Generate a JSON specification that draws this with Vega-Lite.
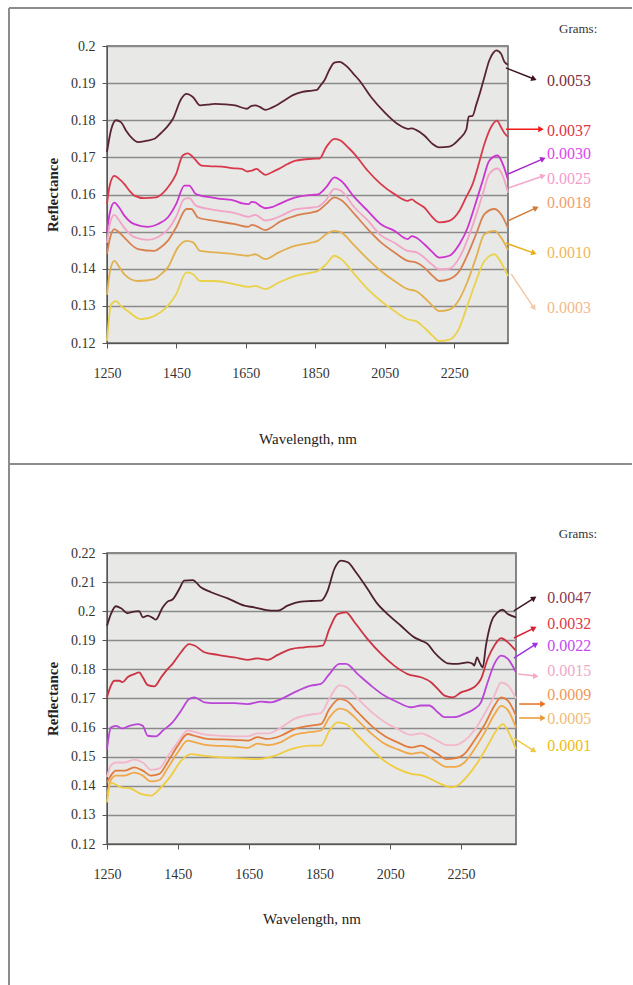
{
  "$schema": "https://vega.github.io/schema/vega-lite/v6.json",
  "padding": {"left": 7, "top": 6, "right": 0, "bottom": 0},
  "autosize": {"type": "pad"},
  "background": "#ffffff",
  "bounds": "flush",
  "spacing": 210,
  "config": {
    "font": "Liberation Serif",
    "view": {"fill": "#e8e8e6", "stroke": "#606060", "strokeWidth": 1.5},
    "axis": {
      "labelFont": "Liberation Serif",
      "titleFont": "Liberation Serif",
      "labelColor": "#333333",
      "titleColor": "#222222",
      "domainColor": "#555555",
      "tickColor": "#555555",
      "gridColor": "#8a8a8a",
      "gridWidth": 1.5,
      "labelFontSize": 14,
      "titleFontSize": 15,
      "titleFontWeight": "normal",
      "labelOverlap": false
    }
  },
  "datasets": {
    "upper": [
      {"g":"0.0053","nm":1250,"r":0.1715},{"g":"0.0053","nm":1262,"r":0.1775},{"g":"0.0053","nm":1276,"r":0.1800},{"g":"0.0053","nm":1290,"r":0.1795},{"g":"0.0053","nm":1305,"r":0.1772},{"g":"0.0053","nm":1322,"r":0.1752},{"g":"0.0053","nm":1339,"r":0.1741},{"g":"0.0053","nm":1365,"r":0.1745},{"g":"0.0053","nm":1387,"r":0.1750},{"g":"0.0053","nm":1405,"r":0.1765},{"g":"0.0053","nm":1421,"r":0.1780},{"g":"0.0053","nm":1440,"r":0.1804},{"g":"0.0053","nm":1464,"r":0.1858},{"g":"0.0053","nm":1479,"r":0.1871},{"g":"0.0053","nm":1498,"r":0.1862},{"g":"0.0053","nm":1518,"r":0.1840},{"g":"0.0053","nm":1540,"r":0.1842},{"g":"0.0053","nm":1561,"r":0.1844},{"g":"0.0053","nm":1590,"r":0.1843},{"g":"0.0053","nm":1619,"r":0.1840},{"g":"0.0053","nm":1653,"r":0.1831},{"g":"0.0053","nm":1665,"r":0.1838},{"g":"0.0053","nm":1677,"r":0.1840},{"g":"0.0053","nm":1690,"r":0.1836},{"g":"0.0053","nm":1706,"r":0.1828},{"g":"0.0053","nm":1725,"r":0.1834},{"g":"0.0053","nm":1745,"r":0.1844},{"g":"0.0053","nm":1765,"r":0.1856},{"g":"0.0053","nm":1784,"r":0.1867},{"g":"0.0053","nm":1810,"r":0.1876},{"g":"0.0053","nm":1841,"r":0.1880},{"g":"0.0053","nm":1855,"r":0.1882},{"g":"0.0053","nm":1866,"r":0.1895},{"g":"0.0053","nm":1876,"r":0.1907},{"g":"0.0053","nm":1890,"r":0.1935},{"g":"0.0053","nm":1905,"r":0.1955},{"g":"0.0053","nm":1919,"r":0.1957},{"g":"0.0053","nm":1943,"r":0.1943},{"g":"0.0053","nm":1960,"r":0.1925},{"g":"0.0053","nm":1977,"r":0.1907},{"g":"0.0053","nm":2011,"r":0.1862},{"g":"0.0053","nm":2049,"r":0.1822},{"g":"0.0053","nm":2087,"r":0.1790},{"g":"0.0053","nm":2116,"r":0.1777},{"g":"0.0053","nm":2128,"r":0.1778},{"g":"0.0053","nm":2140,"r":0.1774},{"g":"0.0053","nm":2164,"r":0.1759},{"g":"0.0053","nm":2188,"r":0.1736},{"g":"0.0053","nm":2207,"r":0.1727},{"g":"0.0053","nm":2236,"r":0.1729},{"g":"0.0053","nm":2265,"r":0.1750},{"g":"0.0053","nm":2285,"r":0.1775},{"g":"0.0053","nm":2292,"r":0.1810},{"g":"0.0053","nm":2303,"r":0.1812},{"g":"0.0053","nm":2313,"r":0.1840},{"g":"0.0053","nm":2323,"r":0.1870},{"g":"0.0053","nm":2337,"r":0.1916},{"g":"0.0053","nm":2351,"r":0.1961},{"g":"0.0053","nm":2363,"r":0.1982},{"g":"0.0053","nm":2371,"r":0.1988},{"g":"0.0053","nm":2385,"r":0.1979},{"g":"0.0053","nm":2395,"r":0.1957},{"g":"0.0053","nm":2405,"r":0.1950},

      {"g":"0.0037","nm":1250,"r":0.1575},{"g":"0.0037","nm":1258,"r":0.1625},{"g":"0.0037","nm":1271,"r":0.1650},{"g":"0.0037","nm":1285,"r":0.1642},{"g":"0.0037","nm":1300,"r":0.1628},{"g":"0.0037","nm":1315,"r":0.1610},{"g":"0.0037","nm":1329,"r":0.1597},{"g":"0.0037","nm":1357,"r":0.1590},{"g":"0.0037","nm":1391,"r":0.1592},{"g":"0.0037","nm":1410,"r":0.1603},{"g":"0.0037","nm":1425,"r":0.1619},{"g":"0.0037","nm":1449,"r":0.1655},{"g":"0.0037","nm":1468,"r":0.1705},{"g":"0.0037","nm":1483,"r":0.1711},{"g":"0.0037","nm":1502,"r":0.1696},{"g":"0.0037","nm":1522,"r":0.1678},{"g":"0.0037","nm":1550,"r":0.1676},{"g":"0.0037","nm":1580,"r":0.1675},{"g":"0.0037","nm":1610,"r":0.1671},{"g":"0.0037","nm":1638,"r":0.1669},{"g":"0.0037","nm":1655,"r":0.1662},{"g":"0.0037","nm":1667,"r":0.1664},{"g":"0.0037","nm":1681,"r":0.1669},{"g":"0.0037","nm":1694,"r":0.1660},{"g":"0.0037","nm":1706,"r":0.1653},{"g":"0.0037","nm":1725,"r":0.1660},{"g":"0.0037","nm":1745,"r":0.1669},{"g":"0.0037","nm":1770,"r":0.1682},{"g":"0.0037","nm":1793,"r":0.1691},{"g":"0.0037","nm":1841,"r":0.1696},{"g":"0.0037","nm":1862,"r":0.1697},{"g":"0.0037","nm":1881,"r":0.1727},{"g":"0.0037","nm":1905,"r":0.1750},{"g":"0.0037","nm":1924,"r":0.1745},{"g":"0.0037","nm":1943,"r":0.1728},{"g":"0.0037","nm":1963,"r":0.1709},{"g":"0.0037","nm":2001,"r":0.1664},{"g":"0.0037","nm":2039,"r":0.1628},{"g":"0.0037","nm":2078,"r":0.1601},{"g":"0.0037","nm":2116,"r":0.1583},{"g":"0.0037","nm":2128,"r":0.1587},{"g":"0.0037","nm":2140,"r":0.1579},{"g":"0.0037","nm":2164,"r":0.1565},{"g":"0.0037","nm":2188,"r":0.1538},{"g":"0.0037","nm":2207,"r":0.1525},{"g":"0.0037","nm":2236,"r":0.1529},{"g":"0.0037","nm":2265,"r":0.1556},{"g":"0.0037","nm":2284,"r":0.1592},{"g":"0.0037","nm":2303,"r":0.1628},{"g":"0.0037","nm":2318,"r":0.1673},{"g":"0.0037","nm":2337,"r":0.1736},{"g":"0.0037","nm":2356,"r":0.1781},{"g":"0.0037","nm":2373,"r":0.1799},{"g":"0.0037","nm":2385,"r":0.1781},{"g":"0.0037","nm":2395,"r":0.1765},{"g":"0.0037","nm":2405,"r":0.1755},

      {"g":"0.0030","nm":1250,"r":0.1500},{"g":"0.0030","nm":1258,"r":0.1550},{"g":"0.0030","nm":1271,"r":0.1578},{"g":"0.0030","nm":1285,"r":0.1565},{"g":"0.0030","nm":1300,"r":0.1543},{"g":"0.0030","nm":1329,"r":0.1520},{"g":"0.0030","nm":1367,"r":0.1513},{"g":"0.0030","nm":1396,"r":0.1520},{"g":"0.0030","nm":1425,"r":0.1538},{"g":"0.0030","nm":1449,"r":0.1574},{"g":"0.0030","nm":1473,"r":0.1624},{"g":"0.0030","nm":1487,"r":0.1624},{"g":"0.0030","nm":1506,"r":0.1601},{"g":"0.0030","nm":1550,"r":0.1592},{"g":"0.0030","nm":1580,"r":0.1588},{"g":"0.0030","nm":1619,"r":0.1583},{"g":"0.0030","nm":1640,"r":0.1576},{"g":"0.0030","nm":1657,"r":0.1574},{"g":"0.0030","nm":1667,"r":0.1580},{"g":"0.0030","nm":1677,"r":0.1579},{"g":"0.0030","nm":1690,"r":0.1570},{"g":"0.0030","nm":1706,"r":0.1563},{"g":"0.0030","nm":1725,"r":0.1566},{"g":"0.0030","nm":1745,"r":0.1574},{"g":"0.0030","nm":1793,"r":0.1592},{"g":"0.0030","nm":1841,"r":0.1599},{"g":"0.0030","nm":1857,"r":0.1600},{"g":"0.0030","nm":1881,"r":0.1619},{"g":"0.0030","nm":1905,"r":0.1646},{"g":"0.0030","nm":1924,"r":0.1637},{"g":"0.0030","nm":1963,"r":0.1592},{"g":"0.0030","nm":2001,"r":0.1556},{"g":"0.0030","nm":2039,"r":0.1520},{"g":"0.0030","nm":2078,"r":0.1502},{"g":"0.0030","nm":2116,"r":0.1480},{"g":"0.0030","nm":2128,"r":0.1488},{"g":"0.0030","nm":2140,"r":0.1484},{"g":"0.0030","nm":2164,"r":0.1466},{"g":"0.0030","nm":2188,"r":0.1444},{"g":"0.0030","nm":2207,"r":0.1430},{"g":"0.0030","nm":2236,"r":0.1435},{"g":"0.0030","nm":2265,"r":0.1466},{"g":"0.0030","nm":2289,"r":0.1511},{"g":"0.0030","nm":2308,"r":0.1565},{"g":"0.0030","nm":2332,"r":0.1637},{"g":"0.0030","nm":2351,"r":0.1691},{"g":"0.0030","nm":2375,"r":0.1705},{"g":"0.0030","nm":2390,"r":0.1682},{"g":"0.0030","nm":2405,"r":0.1640},

      {"g":"0.0025","nm":1250,"r":0.1470},{"g":"0.0025","nm":1258,"r":0.1520},{"g":"0.0025","nm":1271,"r":0.1545},{"g":"0.0025","nm":1285,"r":0.1530},{"g":"0.0025","nm":1300,"r":0.1510},{"g":"0.0025","nm":1329,"r":0.1485},{"g":"0.0025","nm":1367,"r":0.1478},{"g":"0.0025","nm":1396,"r":0.1485},{"g":"0.0025","nm":1425,"r":0.1505},{"g":"0.0025","nm":1449,"r":0.1540},{"g":"0.0025","nm":1473,"r":0.1588},{"g":"0.0025","nm":1487,"r":0.1590},{"g":"0.0025","nm":1506,"r":0.1570},{"g":"0.0025","nm":1550,"r":0.1560},{"g":"0.0025","nm":1619,"r":0.1550},{"g":"0.0025","nm":1657,"r":0.1540},{"g":"0.0025","nm":1677,"r":0.1545},{"g":"0.0025","nm":1706,"r":0.1530},{"g":"0.0025","nm":1745,"r":0.1540},{"g":"0.0025","nm":1793,"r":0.1560},{"g":"0.0025","nm":1841,"r":0.1565},{"g":"0.0025","nm":1857,"r":0.1567},{"g":"0.0025","nm":1881,"r":0.1585},{"g":"0.0025","nm":1905,"r":0.1615},{"g":"0.0025","nm":1924,"r":0.1610},{"g":"0.0025","nm":1963,"r":0.1565},{"g":"0.0025","nm":2001,"r":0.1530},{"g":"0.0025","nm":2039,"r":0.1490},{"g":"0.0025","nm":2078,"r":0.1470},{"g":"0.0025","nm":2116,"r":0.1448},{"g":"0.0025","nm":2140,"r":0.1445},{"g":"0.0025","nm":2164,"r":0.1430},{"g":"0.0025","nm":2188,"r":0.1410},{"g":"0.0025","nm":2207,"r":0.1398},{"g":"0.0025","nm":2236,"r":0.1400},{"g":"0.0025","nm":2265,"r":0.1430},{"g":"0.0025","nm":2289,"r":0.1480},{"g":"0.0025","nm":2308,"r":0.1530},{"g":"0.0025","nm":2332,"r":0.1600},{"g":"0.0025","nm":2351,"r":0.1655},{"g":"0.0025","nm":2375,"r":0.1670},{"g":"0.0025","nm":2390,"r":0.1650},{"g":"0.0025","nm":2405,"r":0.1605},

      {"g":"0.0018","nm":1250,"r":0.1440},{"g":"0.0018","nm":1258,"r":0.1480},{"g":"0.0018","nm":1271,"r":0.1507},{"g":"0.0018","nm":1285,"r":0.1498},{"g":"0.0018","nm":1300,"r":0.1484},{"g":"0.0018","nm":1339,"r":0.1453},{"g":"0.0018","nm":1387,"r":0.1448},{"g":"0.0018","nm":1405,"r":0.1458},{"g":"0.0018","nm":1425,"r":0.1475},{"g":"0.0018","nm":1449,"r":0.1511},{"g":"0.0018","nm":1479,"r":0.1561},{"g":"0.0018","nm":1493,"r":0.1561},{"g":"0.0018","nm":1512,"r":0.1538},{"g":"0.0018","nm":1561,"r":0.1529},{"g":"0.0018","nm":1619,"r":0.1520},{"g":"0.0018","nm":1657,"r":0.1513},{"g":"0.0018","nm":1667,"r":0.1518},{"g":"0.0018","nm":1677,"r":0.1516},{"g":"0.0018","nm":1706,"r":0.1504},{"g":"0.0018","nm":1725,"r":0.1512},{"g":"0.0018","nm":1745,"r":0.1525},{"g":"0.0018","nm":1793,"r":0.1543},{"g":"0.0018","nm":1841,"r":0.1552},{"g":"0.0018","nm":1857,"r":0.1556},{"g":"0.0018","nm":1881,"r":0.1574},{"g":"0.0018","nm":1905,"r":0.1592},{"g":"0.0018","nm":1924,"r":0.1585},{"g":"0.0018","nm":1963,"r":0.1547},{"g":"0.0018","nm":2001,"r":0.1507},{"g":"0.0018","nm":2039,"r":0.1471},{"g":"0.0018","nm":2078,"r":0.1444},{"g":"0.0018","nm":2116,"r":0.1421},{"g":"0.0018","nm":2140,"r":0.1417},{"g":"0.0018","nm":2164,"r":0.1403},{"g":"0.0018","nm":2188,"r":0.1381},{"g":"0.0018","nm":2207,"r":0.1367},{"g":"0.0018","nm":2236,"r":0.1372},{"g":"0.0018","nm":2265,"r":0.1394},{"g":"0.0018","nm":2289,"r":0.1439},{"g":"0.0018","nm":2313,"r":0.1493},{"g":"0.0018","nm":2337,"r":0.1547},{"g":"0.0018","nm":2366,"r":0.1561},{"g":"0.0018","nm":2385,"r":0.1547},{"g":"0.0018","nm":2405,"r":0.1510},

      {"g":"0.0010","nm":1250,"r":0.1330},{"g":"0.0010","nm":1258,"r":0.1390},{"g":"0.0010","nm":1271,"r":0.1421},{"g":"0.0010","nm":1285,"r":0.1405},{"g":"0.0010","nm":1300,"r":0.1385},{"g":"0.0010","nm":1339,"r":0.1367},{"g":"0.0010","nm":1387,"r":0.1372},{"g":"0.0010","nm":1405,"r":0.1385},{"g":"0.0010","nm":1425,"r":0.1403},{"g":"0.0010","nm":1454,"r":0.1457},{"g":"0.0010","nm":1479,"r":0.1475},{"g":"0.0010","nm":1498,"r":0.1471},{"g":"0.0010","nm":1518,"r":0.1448},{"g":"0.0010","nm":1561,"r":0.1444},{"g":"0.0010","nm":1619,"r":0.1439},{"g":"0.0010","nm":1657,"r":0.1435},{"g":"0.0010","nm":1677,"r":0.1439},{"g":"0.0010","nm":1706,"r":0.1426},{"g":"0.0010","nm":1745,"r":0.1444},{"g":"0.0010","nm":1793,"r":0.1462},{"g":"0.0010","nm":1841,"r":0.1471},{"g":"0.0010","nm":1857,"r":0.1475},{"g":"0.0010","nm":1881,"r":0.1493},{"g":"0.0010","nm":1905,"r":0.1502},{"g":"0.0010","nm":1924,"r":0.1498},{"g":"0.0010","nm":1963,"r":0.1462},{"g":"0.0010","nm":2001,"r":0.1426},{"g":"0.0010","nm":2039,"r":0.1394},{"g":"0.0010","nm":2078,"r":0.1367},{"g":"0.0010","nm":2116,"r":0.1345},{"g":"0.0010","nm":2140,"r":0.1340},{"g":"0.0010","nm":2164,"r":0.1322},{"g":"0.0010","nm":2188,"r":0.1300},{"g":"0.0010","nm":2207,"r":0.1286},{"g":"0.0010","nm":2236,"r":0.1290},{"g":"0.0010","nm":2265,"r":0.1318},{"g":"0.0010","nm":2289,"r":0.1367},{"g":"0.0010","nm":2313,"r":0.1430},{"g":"0.0010","nm":2337,"r":0.1493},{"g":"0.0010","nm":2366,"r":0.1502},{"g":"0.0010","nm":2385,"r":0.1484},{"g":"0.0010","nm":2405,"r":0.1450},

      {"g":"0.0003","nm":1250,"r":0.1205},{"g":"0.0003","nm":1262,"r":0.1304},{"g":"0.0003","nm":1276,"r":0.1313},{"g":"0.0003","nm":1290,"r":0.1300},{"g":"0.0003","nm":1310,"r":0.1286},{"g":"0.0003","nm":1348,"r":0.1264},{"g":"0.0003","nm":1387,"r":0.1273},{"g":"0.0003","nm":1425,"r":0.1300},{"g":"0.0003","nm":1449,"r":0.1331},{"g":"0.0003","nm":1479,"r":0.1390},{"g":"0.0003","nm":1498,"r":0.1385},{"g":"0.0003","nm":1518,"r":0.1367},{"g":"0.0003","nm":1561,"r":0.1367},{"g":"0.0003","nm":1619,"r":0.1358},{"g":"0.0003","nm":1657,"r":0.1351},{"g":"0.0003","nm":1677,"r":0.1354},{"g":"0.0003","nm":1706,"r":0.1345},{"g":"0.0003","nm":1745,"r":0.1363},{"g":"0.0003","nm":1793,"r":0.1381},{"g":"0.0003","nm":1841,"r":0.1390},{"g":"0.0003","nm":1857,"r":0.1394},{"g":"0.0003","nm":1881,"r":0.1412},{"g":"0.0003","nm":1905,"r":0.1435},{"g":"0.0003","nm":1924,"r":0.1426},{"g":"0.0003","nm":1963,"r":0.1385},{"g":"0.0003","nm":2001,"r":0.1345},{"g":"0.0003","nm":2039,"r":0.1313},{"g":"0.0003","nm":2078,"r":0.1286},{"g":"0.0003","nm":2116,"r":0.1264},{"g":"0.0003","nm":2140,"r":0.1259},{"g":"0.0003","nm":2164,"r":0.1241},{"g":"0.0003","nm":2188,"r":0.1219},{"g":"0.0003","nm":2207,"r":0.1205},{"g":"0.0003","nm":2236,"r":0.1209},{"g":"0.0003","nm":2265,"r":0.1241},{"g":"0.0003","nm":2289,"r":0.1304},{"g":"0.0003","nm":2313,"r":0.1367},{"g":"0.0003","nm":2337,"r":0.1421},{"g":"0.0003","nm":2366,"r":0.1439},{"g":"0.0003","nm":2385,"r":0.1417},{"g":"0.0003","nm":2405,"r":0.1380}
    ],
    "lower": [
      {"g":"0.0047","nm":1250,"r":0.1950},{"g":"0.0047","nm":1261,"r":0.1990},{"g":"0.0047","nm":1275,"r":0.2017},{"g":"0.0047","nm":1290,"r":0.2010},{"g":"0.0047","nm":1308,"r":0.1993},{"g":"0.0047","nm":1322,"r":0.1998},{"g":"0.0047","nm":1341,"r":0.2000},{"g":"0.0047","nm":1351,"r":0.1979},{"g":"0.0047","nm":1365,"r":0.1985},{"g":"0.0047","nm":1379,"r":0.1977},{"g":"0.0047","nm":1388,"r":0.1971},{"g":"0.0047","nm":1407,"r":0.2013},{"g":"0.0047","nm":1421,"r":0.2033},{"g":"0.0047","nm":1435,"r":0.2040},{"g":"0.0047","nm":1454,"r":0.2076},{"g":"0.0047","nm":1468,"r":0.2105},{"g":"0.0047","nm":1492,"r":0.2107},{"g":"0.0047","nm":1515,"r":0.2082},{"g":"0.0047","nm":1544,"r":0.2065},{"g":"0.0047","nm":1591,"r":0.2044},{"g":"0.0047","nm":1638,"r":0.2019},{"g":"0.0047","nm":1666,"r":0.2013},{"g":"0.0047","nm":1694,"r":0.2005},{"g":"0.0047","nm":1713,"r":0.2002},{"g":"0.0047","nm":1732,"r":0.2002},{"g":"0.0047","nm":1760,"r":0.2019},{"g":"0.0047","nm":1798,"r":0.2033},{"g":"0.0047","nm":1826,"r":0.2035},{"g":"0.0047","nm":1854,"r":0.2036},{"g":"0.0047","nm":1873,"r":0.2070},{"g":"0.0047","nm":1892,"r":0.2145},{"g":"0.0047","nm":1911,"r":0.2174},{"g":"0.0047","nm":1930,"r":0.2168},{"g":"0.0047","nm":1953,"r":0.2134},{"g":"0.0047","nm":1986,"r":0.2076},{"g":"0.0047","nm":2014,"r":0.2025},{"g":"0.0047","nm":2047,"r":0.1985},{"g":"0.0047","nm":2080,"r":0.1950},{"g":"0.0047","nm":2118,"r":0.1910},{"g":"0.0047","nm":2137,"r":0.1899},{"g":"0.0047","nm":2156,"r":0.1887},{"g":"0.0047","nm":2174,"r":0.1859},{"g":"0.0047","nm":2193,"r":0.1836},{"g":"0.0047","nm":2212,"r":0.1821},{"g":"0.0047","nm":2240,"r":0.1819},{"g":"0.0047","nm":2269,"r":0.1824},{"g":"0.0047","nm":2283,"r":0.1819},{"g":"0.0047","nm":2287,"r":0.1813},{"g":"0.0047","nm":2295,"r":0.1841},{"g":"0.0047","nm":2302,"r":0.1824},{"g":"0.0047","nm":2311,"r":0.1807},{"g":"0.0047","nm":2320,"r":0.1881},{"g":"0.0047","nm":2335,"r":0.1962},{"g":"0.0047","nm":2353,"r":0.1996},{"g":"0.0047","nm":2367,"r":0.2005},{"g":"0.0047","nm":2382,"r":0.1990},{"g":"0.0047","nm":2405,"r":0.1979},

      {"g":"0.0032","nm":1250,"r":0.1704},{"g":"0.0032","nm":1261,"r":0.1744},{"g":"0.0032","nm":1271,"r":0.1761},{"g":"0.0032","nm":1285,"r":0.1761},{"g":"0.0032","nm":1294,"r":0.1756},{"g":"0.0032","nm":1308,"r":0.1773},{"g":"0.0032","nm":1327,"r":0.1784},{"g":"0.0032","nm":1341,"r":0.1790},{"g":"0.0032","nm":1351,"r":0.1773},{"g":"0.0032","nm":1365,"r":0.1746},{"g":"0.0032","nm":1384,"r":0.1742},{"g":"0.0032","nm":1403,"r":0.1773},{"g":"0.0032","nm":1421,"r":0.1801},{"g":"0.0032","nm":1435,"r":0.1819},{"g":"0.0032","nm":1459,"r":0.1859},{"g":"0.0032","nm":1482,"r":0.1887},{"g":"0.0032","nm":1497,"r":0.1882},{"g":"0.0032","nm":1525,"r":0.1859},{"g":"0.0032","nm":1563,"r":0.1850},{"g":"0.0032","nm":1610,"r":0.1841},{"g":"0.0032","nm":1647,"r":0.1833},{"g":"0.0032","nm":1675,"r":0.1838},{"g":"0.0032","nm":1704,"r":0.1833},{"g":"0.0032","nm":1732,"r":0.1850},{"g":"0.0032","nm":1770,"r":0.1870},{"g":"0.0032","nm":1807,"r":0.1876},{"g":"0.0032","nm":1859,"r":0.1882},{"g":"0.0032","nm":1878,"r":0.1939},{"g":"0.0032","nm":1901,"r":0.1990},{"g":"0.0032","nm":1925,"r":0.1996},{"g":"0.0032","nm":1949,"r":0.1962},{"g":"0.0032","nm":1986,"r":0.1904},{"g":"0.0032","nm":2024,"r":0.1853},{"g":"0.0032","nm":2061,"r":0.1813},{"g":"0.0032","nm":2099,"r":0.1784},{"g":"0.0032","nm":2137,"r":0.1773},{"g":"0.0032","nm":2165,"r":0.1756},{"g":"0.0032","nm":2184,"r":0.1733},{"g":"0.0032","nm":2203,"r":0.1710},{"g":"0.0032","nm":2226,"r":0.1704},{"g":"0.0032","nm":2250,"r":0.1721},{"g":"0.0032","nm":2278,"r":0.1733},{"g":"0.0032","nm":2292,"r":0.1744},{"g":"0.0032","nm":2306,"r":0.1767},{"g":"0.0032","nm":2325,"r":0.1836},{"g":"0.0032","nm":2344,"r":0.1882},{"g":"0.0032","nm":2363,"r":0.1907},{"g":"0.0032","nm":2382,"r":0.1893},{"g":"0.0032","nm":2405,"r":0.1864},

      {"g":"0.0022","nm":1250,"r":0.1526},{"g":"0.0022","nm":1261,"r":0.1600},{"g":"0.0022","nm":1275,"r":0.1606},{"g":"0.0022","nm":1294,"r":0.1597},{"g":"0.0022","nm":1313,"r":0.1606},{"g":"0.0022","nm":1337,"r":0.1612},{"g":"0.0022","nm":1351,"r":0.1606},{"g":"0.0022","nm":1365,"r":0.1572},{"g":"0.0022","nm":1388,"r":0.1570},{"g":"0.0022","nm":1407,"r":0.1589},{"g":"0.0022","nm":1435,"r":0.1618},{"g":"0.0022","nm":1459,"r":0.1658},{"g":"0.0022","nm":1482,"r":0.1698},{"g":"0.0022","nm":1497,"r":0.1704},{"g":"0.0022","nm":1525,"r":0.1687},{"g":"0.0022","nm":1563,"r":0.1684},{"g":"0.0022","nm":1610,"r":0.1684},{"g":"0.0022","nm":1647,"r":0.1681},{"g":"0.0022","nm":1685,"r":0.1689},{"g":"0.0022","nm":1713,"r":0.1687},{"g":"0.0022","nm":1741,"r":0.1698},{"g":"0.0022","nm":1779,"r":0.1721},{"g":"0.0022","nm":1826,"r":0.1744},{"g":"0.0022","nm":1854,"r":0.1750},{"g":"0.0022","nm":1878,"r":0.1784},{"g":"0.0022","nm":1906,"r":0.1819},{"g":"0.0022","nm":1925,"r":0.1819},{"g":"0.0022","nm":1958,"r":0.1784},{"g":"0.0022","nm":1996,"r":0.1744},{"g":"0.0022","nm":2033,"r":0.1710},{"g":"0.0022","nm":2071,"r":0.1687},{"g":"0.0022","nm":2109,"r":0.1670},{"g":"0.0022","nm":2137,"r":0.1676},{"g":"0.0022","nm":2160,"r":0.1676},{"g":"0.0022","nm":2184,"r":0.1653},{"g":"0.0022","nm":2203,"r":0.1636},{"g":"0.0022","nm":2231,"r":0.1636},{"g":"0.0022","nm":2259,"r":0.1647},{"g":"0.0022","nm":2287,"r":0.1664},{"g":"0.0022","nm":2306,"r":0.1687},{"g":"0.0022","nm":2325,"r":0.1756},{"g":"0.0022","nm":2344,"r":0.1819},{"g":"0.0022","nm":2363,"r":0.1847},{"g":"0.0022","nm":2382,"r":0.1836},{"g":"0.0022","nm":2405,"r":0.1790},

      {"g":"0.0015","nm":1250,"r":0.1430},{"g":"0.0015","nm":1261,"r":0.1470},{"g":"0.0015","nm":1275,"r":0.1480},{"g":"0.0015","nm":1299,"r":0.1480},{"g":"0.0015","nm":1327,"r":0.1490},{"g":"0.0015","nm":1351,"r":0.1480},{"g":"0.0015","nm":1374,"r":0.1455},{"g":"0.0015","nm":1398,"r":0.1460},{"g":"0.0015","nm":1421,"r":0.1500},{"g":"0.0015","nm":1450,"r":0.1550},{"g":"0.0015","nm":1478,"r":0.1590},{"g":"0.0015","nm":1497,"r":0.1585},{"g":"0.0015","nm":1534,"r":0.1575},{"g":"0.0015","nm":1610,"r":0.1570},{"g":"0.0015","nm":1647,"r":0.1570},{"g":"0.0015","nm":1675,"r":0.1580},{"g":"0.0015","nm":1704,"r":0.1580},{"g":"0.0015","nm":1741,"r":0.1600},{"g":"0.0015","nm":1779,"r":0.1630},{"g":"0.0015","nm":1826,"r":0.1645},{"g":"0.0015","nm":1854,"r":0.1650},{"g":"0.0015","nm":1878,"r":0.1700},{"g":"0.0015","nm":1906,"r":0.1745},{"g":"0.0015","nm":1925,"r":0.1740},{"g":"0.0015","nm":1958,"r":0.1700},{"g":"0.0015","nm":1996,"r":0.1655},{"g":"0.0015","nm":2033,"r":0.1620},{"g":"0.0015","nm":2071,"r":0.1595},{"g":"0.0015","nm":2109,"r":0.1575},{"g":"0.0015","nm":2137,"r":0.1580},{"g":"0.0015","nm":2160,"r":0.1570},{"g":"0.0015","nm":2184,"r":0.1555},{"g":"0.0015","nm":2208,"r":0.1540},{"g":"0.0015","nm":2231,"r":0.1540},{"g":"0.0015","nm":2259,"r":0.1555},{"g":"0.0015","nm":2287,"r":0.1590},{"g":"0.0015","nm":2315,"r":0.1645},{"g":"0.0015","nm":2344,"r":0.1710},{"g":"0.0015","nm":2363,"r":0.1755},{"g":"0.0015","nm":2382,"r":0.1745},{"g":"0.0015","nm":2405,"r":0.1700},

      {"g":"0.0009","nm":1250,"r":0.1412},{"g":"0.0009","nm":1261,"r":0.1435},{"g":"0.0009","nm":1275,"r":0.1452},{"g":"0.0009","nm":1299,"r":0.1452},{"g":"0.0009","nm":1327,"r":0.1463},{"g":"0.0009","nm":1351,"r":0.1452},{"g":"0.0009","nm":1374,"r":0.1435},{"g":"0.0009","nm":1398,"r":0.1441},{"g":"0.0009","nm":1421,"r":0.1481},{"g":"0.0009","nm":1450,"r":0.1538},{"g":"0.0009","nm":1478,"r":0.1578},{"g":"0.0009","nm":1497,"r":0.1572},{"g":"0.0009","nm":1534,"r":0.1561},{"g":"0.0009","nm":1610,"r":0.1558},{"g":"0.0009","nm":1647,"r":0.1555},{"g":"0.0009","nm":1675,"r":0.1567},{"g":"0.0009","nm":1704,"r":0.1561},{"g":"0.0009","nm":1741,"r":0.1572},{"g":"0.0009","nm":1779,"r":0.1595},{"g":"0.0009","nm":1826,"r":0.1607},{"g":"0.0009","nm":1854,"r":0.1612},{"g":"0.0009","nm":1878,"r":0.1664},{"g":"0.0009","nm":1906,"r":0.1698},{"g":"0.0009","nm":1925,"r":0.1693},{"g":"0.0009","nm":1958,"r":0.1653},{"g":"0.0009","nm":1996,"r":0.1607},{"g":"0.0009","nm":2033,"r":0.1572},{"g":"0.0009","nm":2071,"r":0.1549},{"g":"0.0009","nm":2109,"r":0.1532},{"g":"0.0009","nm":2137,"r":0.1538},{"g":"0.0009","nm":2160,"r":0.1526},{"g":"0.0009","nm":2184,"r":0.1509},{"g":"0.0009","nm":2208,"r":0.1492},{"g":"0.0009","nm":2231,"r":0.1494},{"g":"0.0009","nm":2259,"r":0.1509},{"g":"0.0009","nm":2287,"r":0.1555},{"g":"0.0009","nm":2315,"r":0.1607},{"g":"0.0009","nm":2344,"r":0.1675},{"g":"0.0009","nm":2363,"r":0.1704},{"g":"0.0009","nm":2382,"r":0.1693},{"g":"0.0009","nm":2405,"r":0.1641},

      {"g":"0.0005","nm":1250,"r":0.1370},{"g":"0.0005","nm":1261,"r":0.1420},{"g":"0.0005","nm":1275,"r":0.1435},{"g":"0.0005","nm":1299,"r":0.1435},{"g":"0.0005","nm":1327,"r":0.1445},{"g":"0.0005","nm":1351,"r":0.1435},{"g":"0.0005","nm":1374,"r":0.1415},{"g":"0.0005","nm":1398,"r":0.1420},{"g":"0.0005","nm":1421,"r":0.1460},{"g":"0.0005","nm":1450,"r":0.1515},{"g":"0.0005","nm":1478,"r":0.1555},{"g":"0.0005","nm":1497,"r":0.1550},{"g":"0.0005","nm":1534,"r":0.1540},{"g":"0.0005","nm":1610,"r":0.1535},{"g":"0.0005","nm":1647,"r":0.1530},{"g":"0.0005","nm":1675,"r":0.1545},{"g":"0.0005","nm":1704,"r":0.1540},{"g":"0.0005","nm":1741,"r":0.1550},{"g":"0.0005","nm":1779,"r":0.1575},{"g":"0.0005","nm":1826,"r":0.1585},{"g":"0.0005","nm":1854,"r":0.1590},{"g":"0.0005","nm":1878,"r":0.1635},{"g":"0.0005","nm":1906,"r":0.1665},{"g":"0.0005","nm":1925,"r":0.1660},{"g":"0.0005","nm":1958,"r":0.1625},{"g":"0.0005","nm":1996,"r":0.1580},{"g":"0.0005","nm":2033,"r":0.1545},{"g":"0.0005","nm":2071,"r":0.1525},{"g":"0.0005","nm":2109,"r":0.1510},{"g":"0.0005","nm":2137,"r":0.1515},{"g":"0.0005","nm":2160,"r":0.1500},{"g":"0.0005","nm":2184,"r":0.1480},{"g":"0.0005","nm":2208,"r":0.1465},{"g":"0.0005","nm":2231,"r":0.1465},{"g":"0.0005","nm":2259,"r":0.1480},{"g":"0.0005","nm":2287,"r":0.1525},{"g":"0.0005","nm":2315,"r":0.1580},{"g":"0.0005","nm":2344,"r":0.1645},{"g":"0.0005","nm":2363,"r":0.1675},{"g":"0.0005","nm":2382,"r":0.1660},{"g":"0.0005","nm":2405,"r":0.1600},

      {"g":"0.0001","nm":1250,"r":0.1343},{"g":"0.0001","nm":1261,"r":0.1410},{"g":"0.0001","nm":1290,"r":0.1395},{"g":"0.0001","nm":1318,"r":0.1390},{"g":"0.0001","nm":1346,"r":0.1372},{"g":"0.0001","nm":1374,"r":0.1366},{"g":"0.0001","nm":1403,"r":0.1395},{"g":"0.0001","nm":1431,"r":0.1435},{"g":"0.0001","nm":1459,"r":0.1486},{"g":"0.0001","nm":1487,"r":0.1509},{"g":"0.0001","nm":1525,"r":0.1503},{"g":"0.0001","nm":1572,"r":0.1498},{"g":"0.0001","nm":1628,"r":0.1494},{"g":"0.0001","nm":1675,"r":0.1492},{"g":"0.0001","nm":1723,"r":0.1503},{"g":"0.0001","nm":1770,"r":0.1526},{"g":"0.0001","nm":1826,"r":0.1538},{"g":"0.0001","nm":1854,"r":0.1538},{"g":"0.0001","nm":1878,"r":0.1589},{"g":"0.0001","nm":1901,"r":0.1618},{"g":"0.0001","nm":1925,"r":0.1612},{"g":"0.0001","nm":1958,"r":0.1572},{"g":"0.0001","nm":1996,"r":0.1526},{"g":"0.0001","nm":2033,"r":0.1486},{"g":"0.0001","nm":2071,"r":0.1458},{"g":"0.0001","nm":2109,"r":0.1441},{"g":"0.0001","nm":2142,"r":0.1435},{"g":"0.0001","nm":2165,"r":0.1423},{"g":"0.0001","nm":2193,"r":0.1406},{"g":"0.0001","nm":2221,"r":0.1395},{"g":"0.0001","nm":2240,"r":0.1401},{"g":"0.0001","nm":2269,"r":0.1435},{"g":"0.0001","nm":2297,"r":0.1481},{"g":"0.0001","nm":2325,"r":0.1538},{"g":"0.0001","nm":2349,"r":0.1589},{"g":"0.0001","nm":2368,"r":0.1612},{"g":"0.0001","nm":2382,"r":0.1589},{"g":"0.0001","nm":2405,"r":0.1526}
    ],
    "upper_callouts": [
      {"g":"0.0053","nm_from":2399,"r_from":0.1941,"nm_to":2480,"r_to":0.1911,"nm_text":2517,"r_text":0.1906,"heading":21},
      {"g":"0.0037","nm_from":2399,"r_from":0.1776,"nm_to":2500,"r_to":0.1776,"nm_text":2517,"r_text":0.1771,"heading":0},
      {"g":"0.0030","nm_from":2405,"r_from":0.1655,"nm_to":2506,"r_to":0.1696,"nm_text":2517,"r_text":0.1709,"heading":-23},
      {"g":"0.0025","nm_from":2408,"r_from":0.1618,"nm_to":2506,"r_to":0.1650,"nm_text":2517,"r_text":0.1642,"heading":-19},
      {"g":"0.0018","nm_from":2405,"r_from":0.1529,"nm_to":2486,"r_to":0.1564,"nm_text":2517,"r_text":0.1577,"heading":-25},
      {"g":"0.0010","nm_from":2399,"r_from":0.1469,"nm_to":2480,"r_to":0.1442,"nm_text":2517,"r_text":0.1442,"heading":20},
      {"g":"0.0003","nm_from":2414,"r_from":0.1386,"nm_to":2480,"r_to":0.1294,"nm_text":2517,"r_text":0.1294,"heading":56}
    ],
    "lower_callouts": [
      {"g":"0.0047","nm_from":2399,"r_from":0.2001,"nm_to":2456,"r_to":0.2045,"nm_text":2493,"r_text":0.2045,"heading":-33},
      {"g":"0.0032","nm_from":2399,"r_from":0.1908,"nm_to":2456,"r_to":0.1942,"nm_text":2493,"r_text":0.1956,"heading":-27},
      {"g":"0.0022","nm_from":2399,"r_from":0.1839,"nm_to":2461,"r_to":0.1887,"nm_text":2493,"r_text":0.1880,"heading":-32},
      {"g":"0.0015","nm_from":2411,"r_from":0.1784,"nm_to":2461,"r_to":0.1777,"nm_text":2493,"r_text":0.1795,"heading":6},
      {"g":"0.0009","nm_from":2414,"r_from":0.1681,"nm_to":2481,"r_to":0.1681,"nm_text":2493,"r_text":0.1712,"heading":0},
      {"g":"0.0005","nm_from":2414,"r_from":0.1633,"nm_to":2481,"r_to":0.1633,"nm_text":2493,"r_text":0.1630,"heading":0},
      {"g":"0.0001","nm_from":2399,"r_from":0.1564,"nm_to":2456,"r_to":0.1520,"nm_text":2493,"r_text":0.1537,"heading":33}
    ]
  },
  "vconcat": [
    {
      "width": 401,
      "height": 297,
      "resolve": {"scale": {"color": "independent"}},
      "layer": [
        {
          "data": {"name": "upper"},
          "mark": {"type": "line", "strokeWidth": 1.8, "interpolate": "monotone"},
          "encoding": {
            "x": {"field": "nm", "type": "quantitative",
                  "scale": {"domain": [1250, 2405], "nice": false, "zero": false},
                  "axis": {"title": "Wavelength, nm", "values": [1250, 1450, 1650, 1850, 2050, 2250], "tickCount": 20, "format": "d",
                           "grid": false, "tickSize": 5, "labelPadding": 18, "titlePadding": 51, "labelFlush": false}},
            "y": {"field": "r", "type": "quantitative",
                  "scale": {"domain": [0.12, 0.2], "nice": false, "zero": false},
                  "axis": {"title": "Reflectance", "titleFontWeight": "bold", "values": [0.12, 0.13, 0.14, 0.15, 0.16, 0.17, 0.18, 0.19, 0.2], "tickCount": 20,
                           "format": ".2~f", "tickSize": 5, "labelPadding": 7, "titlePadding": 10, "labelFlush": false}},
            "color": {"field": "g", "type": "nominal", "legend": null,
                      "scale": {"domain": ["0.0053", "0.0037", "0.0030", "0.0025", "0.0018", "0.0010", "0.0003"],
                                "range": ["#5a2433", "#d83a4c", "#cc35d0", "#f2a3c6", "#d9804f", "#e2b04e", "#ead24a"]}},
            "detail": {"field": "g"}
          }
        },
        {
          "data": {"values": [{}]},
          "mark": {"type": "rule", "color": "#8c8c8c", "strokeWidth": 2},
          "encoding": {"x": {"datum": 967.7}, "x2": {"datum": 2762}, "y": {"datum": 0.210236}}
        },
        {
          "data": {"values": [{}]},
          "mark": {"type": "rule", "color": "#8c8c8c", "strokeWidth": 2},
          "encoding": {"x": {"datum": 967.7}, "x2": {"datum": 2762}, "y": {"datum": 0.087407}}
        },
        {
          "data": {"values": [{}]},
          "mark": {"type": "rule", "color": "#8c8c8c", "strokeWidth": 2},
          "encoding": {"x": {"datum": 967.7}, "y": {"datum": 0.210236}, "y2": {"datum": 0.087407}}
        },
        {
          "data": {"values": [{}]},
          "mark": {"type": "text", "text": "Grams:", "fontSize": 13, "color": "#333333", "align": "center", "baseline": "middle"},
          "encoding": {"x": {"datum": 2607}, "y": {"datum": 0.2046}}
        },
        {
          "data": {"name": "upper_callouts"},
          "mark": {"type": "rule", "strokeWidth": 1.5},
          "encoding": {
            "x": {"field": "nm_from", "type": "quantitative"}, "y": {"field": "r_from", "type": "quantitative"},
            "x2": {"field": "nm_to"}, "y2": {"field": "r_to"},
            "color": {"field": "g", "type": "nominal", "legend": null,
                      "scale": {"domain": ["0.0053", "0.0037", "0.0030", "0.0025", "0.0018", "0.0010", "0.0003"],
                                "range": ["#3d1420", "#f01818", "#a828c8", "#f6a8cc", "#d07a38", "#e8b020", "#f2c8a8"]}}
          }
        },
        {
          "data": {"name": "upper_callouts"},
          "mark": {"type": "point", "shape": "triangle-right", "filled": true, "size": 40, "opacity": 1},
          "encoding": {
            "x": {"field": "nm_to", "type": "quantitative"}, "y": {"field": "r_to", "type": "quantitative"},
            "angle": {"field": "heading", "type": "quantitative", "scale": null},
            "color": {"field": "g", "type": "nominal", "legend": null,
                      "scale": {"domain": ["0.0053", "0.0037", "0.0030", "0.0025", "0.0018", "0.0010", "0.0003"],
                                "range": ["#3d1420", "#f01818", "#a828c8", "#f6a8cc", "#d07a38", "#e8b020", "#f2c8a8"]}}
          }
        },
        {
          "data": {"name": "upper_callouts"},
          "mark": {"type": "text", "fontSize": 16, "align": "left", "baseline": "middle"},
          "encoding": {
            "x": {"field": "nm_text", "type": "quantitative"}, "y": {"field": "r_text", "type": "quantitative"},
            "text": {"field": "g"},
            "color": {"field": "g", "type": "nominal", "legend": null,
                      "scale": {"domain": ["0.0053", "0.0037", "0.0030", "0.0025", "0.0018", "0.0010", "0.0003"],
                                "range": ["#7c2e40", "#e0343f", "#e046ee", "#f39ccc", "#eea070", "#f2b85a", "#f4b98c"]}}
          }
        }
      ]
    },
    {
      "width": 409,
      "height": 291,
      "resolve": {"scale": {"color": "independent"}},
      "layer": [
        {
          "data": {"name": "lower"},
          "mark": {"type": "line", "strokeWidth": 1.8, "interpolate": "monotone"},
          "encoding": {
            "x": {"field": "nm", "type": "quantitative",
                  "scale": {"domain": [1250, 2405], "nice": false, "zero": false},
                  "axis": {"title": "Wavelength, nm", "values": [1250, 1450, 1650, 1850, 2050, 2250], "tickCount": 20, "format": "d",
                           "grid": false, "tickSize": 5, "labelPadding": 18, "titlePadding": 30, "labelFlush": false}},
            "y": {"field": "r", "type": "quantitative",
                  "scale": {"domain": [0.12, 0.22], "nice": false, "zero": false},
                  "axis": {"title": "Reflectance", "titleFontWeight": "bold", "values": [0.12, 0.13, 0.14, 0.15, 0.16, 0.17, 0.18, 0.19, 0.2, 0.21, 0.22], "tickCount": 20,
                           "format": ".2~f", "tickSize": 5, "labelPadding": 7, "titlePadding": 10, "labelFlush": false}},
            "color": {"field": "g", "type": "nominal", "legend": null,
                      "scale": {"domain": ["0.0047", "0.0032", "0.0022", "0.0015", "0.0009", "0.0005", "0.0001"],
                                "range": ["#4d2030", "#cc3444", "#b946d6", "#f3b6cc", "#e27c3c", "#f0a848", "#f0cc40"]}},
            "detail": {"field": "g"}
          }
        },
        {
          "data": {"values": [{}]},
          "mark": {"type": "rule", "color": "#8c8c8c", "strokeWidth": 2},
          "encoding": {"x": {"datum": 973.25}, "y": {"datum": 0.250584}, "y2": {"datum": 0.071546}}
        },
        {
          "data": {"values": [{}]},
          "mark": {"type": "text", "text": "Grams:", "fontSize": 13, "color": "#333333", "align": "center", "baseline": "middle"},
          "encoding": {"x": {"datum": 2580}, "y": {"datum": 0.2265}}
        },
        {
          "data": {"name": "lower_callouts"},
          "mark": {"type": "rule", "strokeWidth": 1.5},
          "encoding": {
            "x": {"field": "nm_from", "type": "quantitative"}, "y": {"field": "r_from", "type": "quantitative"},
            "x2": {"field": "nm_to"}, "y2": {"field": "r_to"},
            "color": {"field": "g", "type": "nominal", "legend": null,
                      "scale": {"domain": ["0.0047", "0.0032", "0.0022", "0.0015", "0.0009", "0.0005", "0.0001"],
                                "range": ["#3d1420", "#d82030", "#a030e8", "#f4a8c4", "#e87020", "#e89830", "#f0c848"]}}
          }
        },
        {
          "data": {"name": "lower_callouts"},
          "mark": {"type": "point", "shape": "triangle-right", "filled": true, "size": 40, "opacity": 1},
          "encoding": {
            "x": {"field": "nm_to", "type": "quantitative"}, "y": {"field": "r_to", "type": "quantitative"},
            "angle": {"field": "heading", "type": "quantitative", "scale": null},
            "color": {"field": "g", "type": "nominal", "legend": null,
                      "scale": {"domain": ["0.0047", "0.0032", "0.0022", "0.0015", "0.0009", "0.0005", "0.0001"],
                                "range": ["#3d1420", "#d82030", "#a030e8", "#f4a8c4", "#e87020", "#e89830", "#f0c848"]}}
          }
        },
        {
          "data": {"name": "lower_callouts"},
          "mark": {"type": "text", "fontSize": 16, "align": "left", "baseline": "middle"},
          "encoding": {
            "x": {"field": "nm_text", "type": "quantitative"}, "y": {"field": "r_text", "type": "quantitative"},
            "text": {"field": "g"},
            "color": {"field": "g", "type": "nominal", "legend": null,
                      "scale": {"domain": ["0.0047", "0.0032", "0.0022", "0.0015", "0.0009", "0.0005", "0.0001"],
                                "range": ["#8c3a52", "#e03a4a", "#c24cf0", "#f0a8c8", "#f09858", "#f2bc78", "#f0bc10"]}}
          }
        }
      ]
    }
  ]
}
